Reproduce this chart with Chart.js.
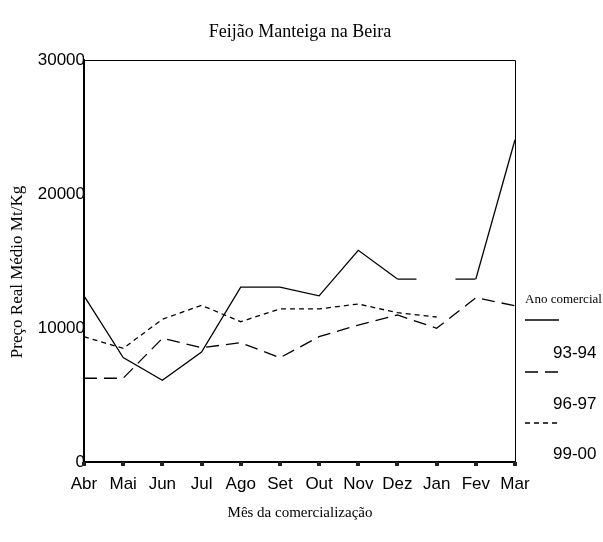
<!DOCTYPE html>
<html>
<head>
<meta charset="utf-8">
<script src="https://cdn.jsdelivr.net/npm/chart.js@4/dist/chart.umd.min.js"></script>
<style>
html,body{margin:0;padding:0;background:#fff;}
#wrap{width:603px;height:542px;position:relative;}
</style>
</head>
<body>
<div id="wrap"><canvas id="c" width="603" height="542"></canvas></div>
<script>
const months = ['Abr','Mai','Jun','Jul','Ago','Set','Out','Nov','Dez','Jan','Fev','Mar'];
const series93 = [12400, 7800, 6100, 8200, 13050, 13050, 12400, 15800, 13650, null, 13650, 24050];
const series96 = [6250, 6250, 9230, 8530, 8900, 7780, 9350, 10220, 10970, 9980, 12260, 11660];
const series99 = [9350, 8480, 10650, 11690, 10470, 11420, 11420, 11790, 11140, 10820, null, null];
const seriesLabels = ['93-94', '96-97', '99-00'];
const yTicks = [0, 10000, 20000, 30000];
const chartTitle = 'Feijão Manteiga na Beira';
const xTitle = 'Mês da comercialização';
const yTitle = 'Preço Real Médio Mt/Kg';
const legendTitle = 'Ano comercial';

const dashes = [[], [13, 7], [5, 4]];
const serif = '"Liberation Serif", "Times New Roman", serif';
const sans = '"Liberation Sans", Arial, sans-serif';

const framePlugin = {
  id: 'frame',
  afterDatasetsDraw(chart) {
    const {ctx, chartArea: a} = chart;
    ctx.save();
    ctx.strokeStyle = '#000';
    ctx.lineWidth = 1;
    ctx.beginPath();
    ctx.moveTo(a.left, a.top + 0.5);
    ctx.lineTo(a.right + 0.5, a.top + 0.5);
    ctx.lineTo(a.right + 0.5, a.bottom);
    ctx.stroke();
    const xs = chart.scales.x;
    ctx.fillStyle = '#222';
    months.forEach((m, i) => {
      const px = xs.getPixelForValue(i);
      ctx.fillRect(Math.round(px) - 2, a.bottom, 4, 4);
    });
    ctx.restore();
  }
};

const textPlugin = {
  id: 'texts',
  afterDraw(chart) {
    const {ctx} = chart;
    ctx.save();
    ctx.fillStyle = '#000';
    ctx.textBaseline = 'middle';
    ctx.textAlign = 'center';
    ctx.font = '18px ' + serif;
    ctx.fillText(chartTitle, 300, 32);
    ctx.font = '15px ' + serif;
    ctx.fillText(xTitle, 300, 513);
    ctx.save();
    ctx.translate(18, 272);
    ctx.rotate(-Math.PI / 2);
    ctx.font = '17px ' + serif;
    ctx.fillText(yTitle, 0, 0);
    ctx.restore();

    ctx.textAlign = 'left';
    ctx.font = '13px ' + serif;
    ctx.fillText(legendTitle, 525, 300);
    const sampleY = [320, 372, 423];
    const labelY = [353, 404, 454];
    ctx.strokeStyle = '#000';
    ctx.lineWidth = 1.3;
    seriesLabels.forEach((lab, i) => {
      ctx.setLineDash(dashes[i]);
      ctx.beginPath();
      ctx.moveTo(525, sampleY[i]);
      ctx.lineTo(559, sampleY[i]);
      ctx.stroke();
      ctx.setLineDash([]);
      ctx.font = '17px ' + sans;
      ctx.fillText(lab, 553, labelY[i]);
    });
    ctx.restore();
  }
};

const mk = (label, data, i) => ({
  label, data,
  borderColor: '#000',
  borderWidth: 1.3,
  borderDash: dashes[i],
  pointRadius: 0,
  fill: false,
  tension: 0,
  spanGaps: i === 0,
  segment: i === 0 ? {
    borderDash: ctx => ((ctx.p0DataIndex === 8 || ctx.p0DataIndex === 9) ? [19, 39, 20, 1000] : undefined)
  } : undefined
});

new Chart(document.getElementById('c'), {
  type: 'line',
  data: {
    labels: months,
    datasets: [
      mk(seriesLabels[0], series93, 0),
      mk(seriesLabels[1], series96, 1),
      mk(seriesLabels[2], series99, 2)
    ]
  },
  options: {
    responsive: false,
    animation: false,
    layout: {padding: {left: 0, right: 88, top: 60, bottom: 0}},
    plugins: {
      legend: {display: false},
      tooltip: {enabled: false},
      title: {display: false}
    },
    scales: {
      x: {
        type: 'category',
        offset: false,
        grid: {display: false},
        border: {display: true, color: '#000', width: 2},
        ticks: {color: '#000', font: {family: sans, size: 17}, padding: 4, maxRotation: 0, autoSkip: false},
        afterFit: s => { s.height = 80; }
      },
      y: {
        min: 0, max: 30000,
        afterBuildTicks: s => { s.ticks = yTicks.map(v => ({value: v})); },
        grid: {display: false},
        border: {display: true, color: '#000', width: 2},
        ticks: {color: '#000', font: {family: sans, size: 17}, padding: -9, z: -1, callback: v => String(v)},
        afterFit: s => { s.width = 84; }
      }
    }
  },
  plugins: [framePlugin, textPlugin]
});
</script>
</body>
</html>
